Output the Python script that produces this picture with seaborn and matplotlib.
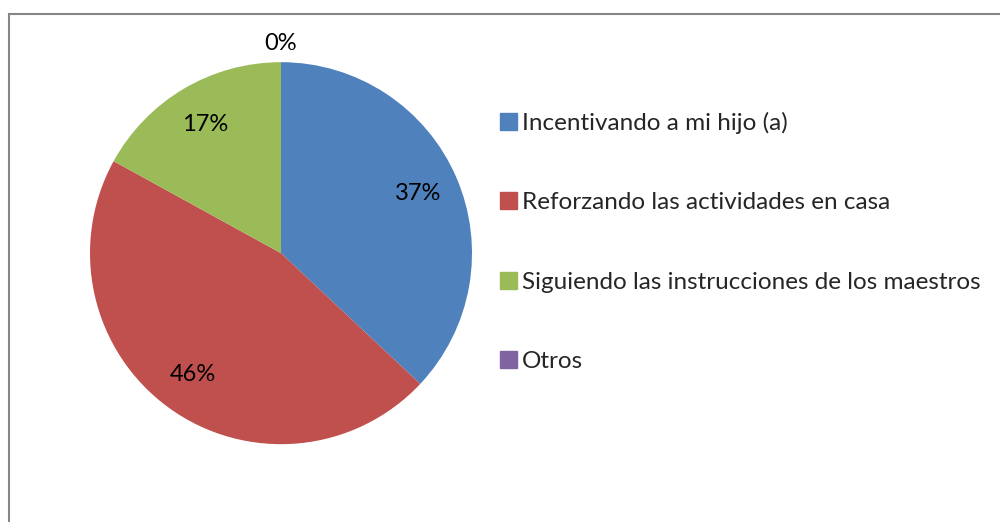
import numpy as np
import seaborn as sns
import matplotlib.pyplot as plt
from matplotlib.patches import Rectangle

categories = ['Incentivando a mi hijo (a)', 'Reforzando las actividades en casa',
              'Siguiendo las instrucciones de los maestros', 'Otros']
values = [37, 46, 17, 0]
colors = ['#4F81BD', '#C0504D', '#9BBB59', '#8064A2']

sns.set_style('white')
plt.rcParams['font.family'] = ['Lato', 'DejaVu Sans']

fig = plt.figure(figsize=(10, 5.22), dpi=100)
ax = fig.add_axes([0.090, 0.149, 0.382, 0.732])

wedges, texts, autotexts = ax.pie(
    values, colors=colors, startangle=90, counterclock=False,
    autopct=lambda p: f'{p:.0f}%', pctdistance=0.785,
    textprops={'fontsize': 17, 'color': 'black'},
    wedgeprops={'linewidth': 0}
)
ax.set_aspect('equal')
ax.set_xlim(-1, 1)
ax.set_ylim(-1, 1)

# push the empty slice label outside the pie
for w, t, v in zip(wedges, autotexts, values):
    if v == 0:
        ang = np.deg2rad((w.theta1 + w.theta2) / 2)
        t.set_position((1.1 * np.cos(ang), 1.1 * np.sin(ang)))

handles = [Rectangle((0, 0), 1, 1, color=c) for c in colors]
fig.legend(handles, categories, loc='upper left', bbox_to_anchor=(0.490, 0.804),
           frameon=False, fontsize=17.5, handlelength=0.7, handleheight=0.7,
           handletextpad=0.2, labelspacing=2.4, borderaxespad=0)

# outer chart border
fig.patches.append(Rectangle((8.5 / 1000, -0.1), 1.2, 1 - 13.5 / 522 + 0.1,
                             transform=fig.transFigure, fill=False,
                             edgecolor='#868686', linewidth=1.5))

fig.savefig('out.png', dpi=100)
